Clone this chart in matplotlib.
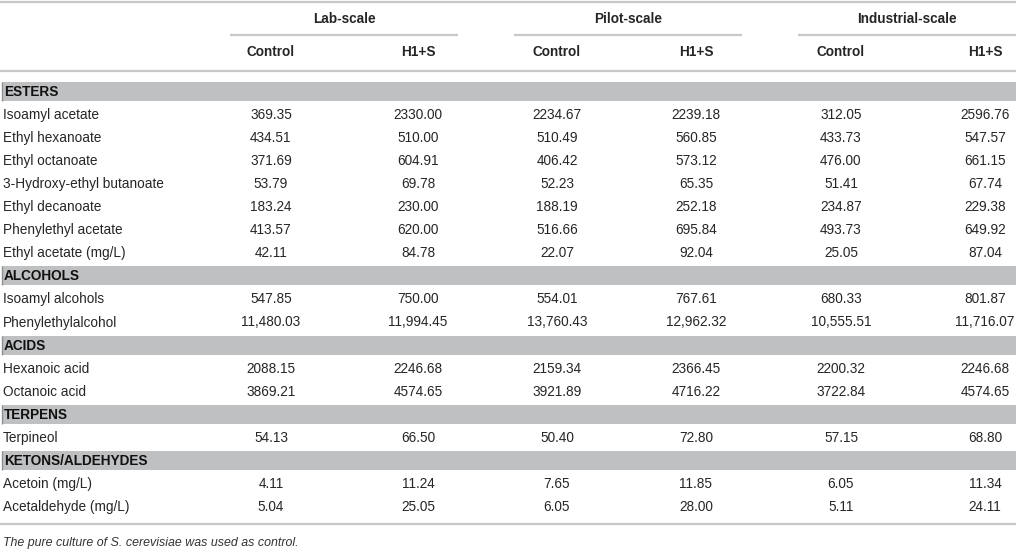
import matplotlib
matplotlib.use("Agg")
import matplotlib.pyplot as plt
from matplotlib.patches import Rectangle

plt.rcParams["font.family"] = ["Liberation Sans", "DejaVu Sans"]

# table content
SCALES = ["Lab-scale", "Pilot-scale", "Industrial-scale"]
TREATMENTS = ["Control", "H1+S"]

GROUPS = ["ESTERS", "ALCOHOLS", "ACIDS", "TERPENS", "KETONS/ALDEHYDES"]

esters = ["Isoamyl acetate", "Ethyl hexanoate", "Ethyl octanoate",
          "3-Hydroxy-ethyl butanoate", "Ethyl decanoate", "Phenylethyl acetate",
          "Ethyl acetate (mg/L)"]
esters_vals = [
    ["369.35", "2330.00", "2234.67", "2239.18", "312.05", "2596.76"],
    ["434.51", "510.00", "510.49", "560.85", "433.73", "547.57"],
    ["371.69", "604.91", "406.42", "573.12", "476.00", "661.15"],
    ["53.79", "69.78", "52.23", "65.35", "51.41", "67.74"],
    ["183.24", "230.00", "188.19", "252.18", "234.87", "229.38"],
    ["413.57", "620.00", "516.66", "695.84", "493.73", "649.92"],
    ["42.11", "84.78", "22.07", "92.04", "25.05", "87.04"],
]

alcohols = ["Isoamyl alcohols", "Phenylethylalcohol"]
alcohols_vals = [
    ["547.85", "750.00", "554.01", "767.61", "680.33", "801.87"],
    ["11,480.03", "11,994.45", "13,760.43", "12,962.32", "10,555.51", "11,716.07"],
]

acids = ["Hexanoic acid", "Octanoic acid"]
acids_vals = [
    ["2088.15", "2246.68", "2159.34", "2366.45", "2200.32", "2246.68"],
    ["3869.21", "4574.65", "3921.89", "4716.22", "3722.84", "4574.65"],
]

terpens = ["Terpineol"]
terpens_vals = [
    ["54.13", "66.50", "50.40", "72.80", "57.15", "68.80"],
]

ketons = ["Acetoin (mg/L)", "Acetaldehyde (mg/L)"]
ketons_vals = [
    ["4.11", "11.24", "7.65", "11.85", "6.05", "11.34"],
    ["5.04", "25.05", "6.05", "28.00", "5.11", "24.11"],
]

FOOTNOTE = "The pure culture of S. cerevisiae was used as control."

# layout (pixel coords)
W, H = 1016, 557
col_x = [271, 418, 557, 696, 841, 985]
span_x = [(230, 458), (514, 742), (798, 1016)]
row0 = 91
pitch = 23.1
txt = "#262626"
line_c = "#c8c8c8"
band_c = "#bfc0c2"
fs = 9.8

fig = plt.figure(figsize=(W / 100, H / 100), dpi=100)
ax = fig.add_axes([0, 0, 1, 1])
ax.set_xlim(0, W)
ax.set_ylim(H, 0)
ax.axis("off")

# header
ax.hlines(2, 0, W, color=line_c, lw=1.6)
for (x0, x1), name in zip(span_x, SCALES):
    ax.text((x0 + x1) / 2, 19, name, ha="center", va="center",
            fontsize=fs, fontweight="bold", color=txt)
    ax.hlines(34.5, x0, x1, color=line_c, lw=1.6)
for i, x in enumerate(col_x):
    ax.text(x, 52, TREATMENTS[i % 2], ha="center", va="center",
            fontsize=fs, fontweight="bold", color=txt)
ax.hlines(71, 0, W, color=line_c, lw=1.6)

sections = [
    (GROUPS[0], esters, esters_vals),
    (GROUPS[1], alcohols, alcohols_vals),
    (GROUPS[2], acids, acids_vals),
    (GROUPS[3], terpens, terpens_vals),
    (GROUPS[4], ketons, ketons_vals),
]

k = 0
for group, names, vals in sections:
    y = row0 + k * pitch
    ax.add_patch(Rectangle((1.5, y - 9.5), W - 1.5, 19, facecolor=band_c,
                           edgecolor="none"))
    ax.vlines(1.5, y - 9.5, y + 9.5, color="#8e8f92", lw=1)
    ax.text(4, y + 0.5, group, ha="left", va="center", fontsize=fs,
            fontweight="bold", color="#111111")
    k += 1
    for name, row in zip(names, vals):
        y = row0 + k * pitch
        ax.text(3, y + 0.5, name, ha="left", va="center", fontsize=fs, color=txt)
        for x, v in zip(col_x, row):
            ax.text(x, y + 0.5, v, ha="center", va="center", fontsize=fs, color=txt)
        k += 1

ax.hlines(524, 0, W, color=line_c, lw=1.6)
ax.text(3, 543, FOOTNOTE, ha="left", va="center", fontsize=8.9,
        style="italic", color="#333333")

fig.savefig("out.png", dpi=100)
